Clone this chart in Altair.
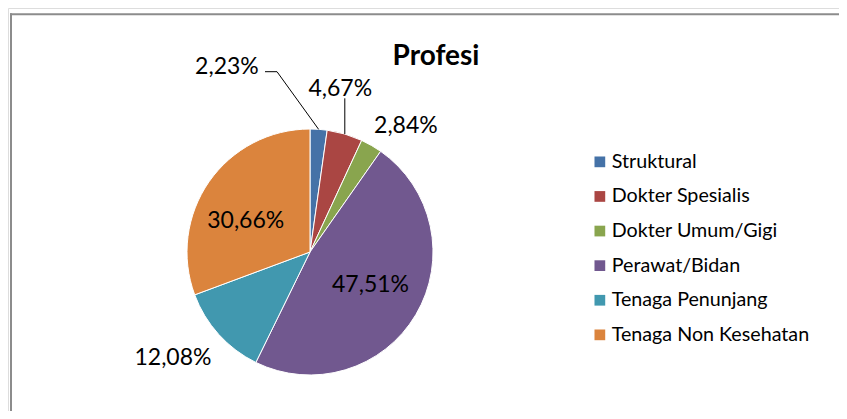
import math
import altair as alt
import pandas as pd

# ---- data ----
title_text = "Profesi"
categories = ["Struktural", "Dokter Spesialis", "Dokter Umum/Gigi",
              "Perawat/Bidan", "Tenaga Penunjang", "Tenaga Non Kesehatan"]
values = [2.23, 4.67, 2.84, 47.51, 12.08, 30.66]
labels = ["2,23%", "4,67%", "2,84%", "47,51%", "12,08%", "30,66%"]
colors = ["#4572A7", "#AA4643", "#89A54E", "#71588F", "#4198AF", "#DB843D"]

df = pd.DataFrame({"cat": categories, "value": values, "label": labels,
                   "order": list(range(len(categories)))})

FONT = "Lato"
CX, CY, R = 302, 244, 123
W, H = 831, 403

theta_scale = alt.Scale(domain=[0, 1], range=[0, 2 * math.pi])

base = (
    alt.Chart(df)
    .transform_window(cum="sum(value)", sort=[alt.SortField("order")], frame=[None, 0])
    .transform_joinaggregate(total="sum(value)")
    .transform_calculate(
        start="(datum.cum - datum.value) / datum.total",
        end="datum.cum / datum.total",
        mid="(datum.cum - datum.value / 2) / datum.total",
    )
    .transform_calculate(
        px=f"{CX} + {R} * sin(2 * PI * datum.mid)",
        py=f"{CY} - {R} * cos(2 * PI * datum.mid)",
    )
)

pie = base.mark_arc(outerRadius=R, stroke="white", strokeWidth=1).encode(
    theta=alt.Theta("start:Q", stack=None, scale=theta_scale),
    theta2="end:Q",
    color=alt.Color(
        "cat:N",
        scale=alt.Scale(domain=categories, range=colors),
        sort=categories,
        legend=alt.Legend(
            title=None, orient="none", legendX=582, legendY=144,
            symbolType="square", symbolSize=115, symbolStrokeWidth=0,
            labelFont=FONT, labelFontSize=19.7, labelColor="#000000",
            labelOffset=2, rowPadding=13.6, padding=0, labelLimit=400,
        ),
    ),
    order=alt.Order("order:Q"),
    x=alt.value(CX),
    y=alt.value(CY),
)


def label_layer(cat, radius, dx, dy):
    return base.transform_filter(alt.datum.cat == cat).mark_text(
        radius=radius, dx=dx, dy=dy, font=FONT, fontSize=23,
        color="#000000", align="center", baseline="middle",
    ).encode(
        theta=alt.Theta("mid:Q", stack=None, scale=theta_scale),
        text="label:N",
        x=alt.value(CX),
        y=alt.value(CY),
    )


text_layers = [
    label_layer("Struktural", 185, -96, 0),
    label_layer("Dokter Spesialis", 160, -15, -10),
    label_layer("Dokter Umum/Gigi", 150, 21, 4),
    label_layer("Perawat/Bidan", 68, 2, -2),
    label_layer("Tenaga Penunjang", 174, -8, -11),
    label_layer("Tenaga Non Kesehatan", 71, -6, 10),
]

# leader lines
lead_struk = base.transform_filter(alt.datum.cat == "Struktural").mark_rule(
    color="#000000", strokeWidth=1
).encode(
    x=alt.X("px:Q", scale=None, axis=None),
    y=alt.Y("py:Q", scale=None, axis=None),
    x2=alt.value(269), y2=alt.value(63.7),
)
lead_struk_h = alt.Chart(pd.DataFrame({"k": [0]})).mark_rule(
    color="#000000", strokeWidth=1
).encode(x=alt.value(257), x2=alt.value(269), y=alt.value(63.7))

lead_spes = base.transform_filter(alt.datum.cat == "Dokter Spesialis").mark_rule(
    color="#000000", strokeWidth=1
).encode(
    x=alt.X("px:Q", scale=None, axis=None),
    y=alt.Y("py:Q", scale=None, axis=None),
    x2="px:Q", y2=alt.value(90.3),
)

# title
one = pd.DataFrame({"t": [title_text]})
title = alt.Chart(one).mark_text(
    font=FONT, fontSize=28, fontWeight="bold", color="#000000",
    align="center", baseline="alphabetic",
).encode(text="t:N", x=alt.value(428), y=alt.value(57))

# chart frame
frame_top = alt.Chart(pd.DataFrame({"k": [0]})).mark_rule(
    color="#8c8c8c", strokeWidth=2
).encode(x=alt.value(2), x2=alt.value(W), y=alt.value(6.3))
frame_left = alt.Chart(pd.DataFrame({"k": [0]})).mark_rule(
    color="#8c8c8c", strokeWidth=2
).encode(x=alt.value(3), y=alt.value(5.3), y2=alt.value(H))

chart = alt.layer(
    frame_top, frame_left, pie, lead_struk, lead_struk_h, lead_spes, title, *text_layers
).properties(
    width=W, height=H, autosize=alt.AutoSizeParams(type="none"), padding=0,
).configure_view(stroke=None).configure(background="white")

chart.save("out.html", embed_options={"renderer": "svg", "actions": False})
